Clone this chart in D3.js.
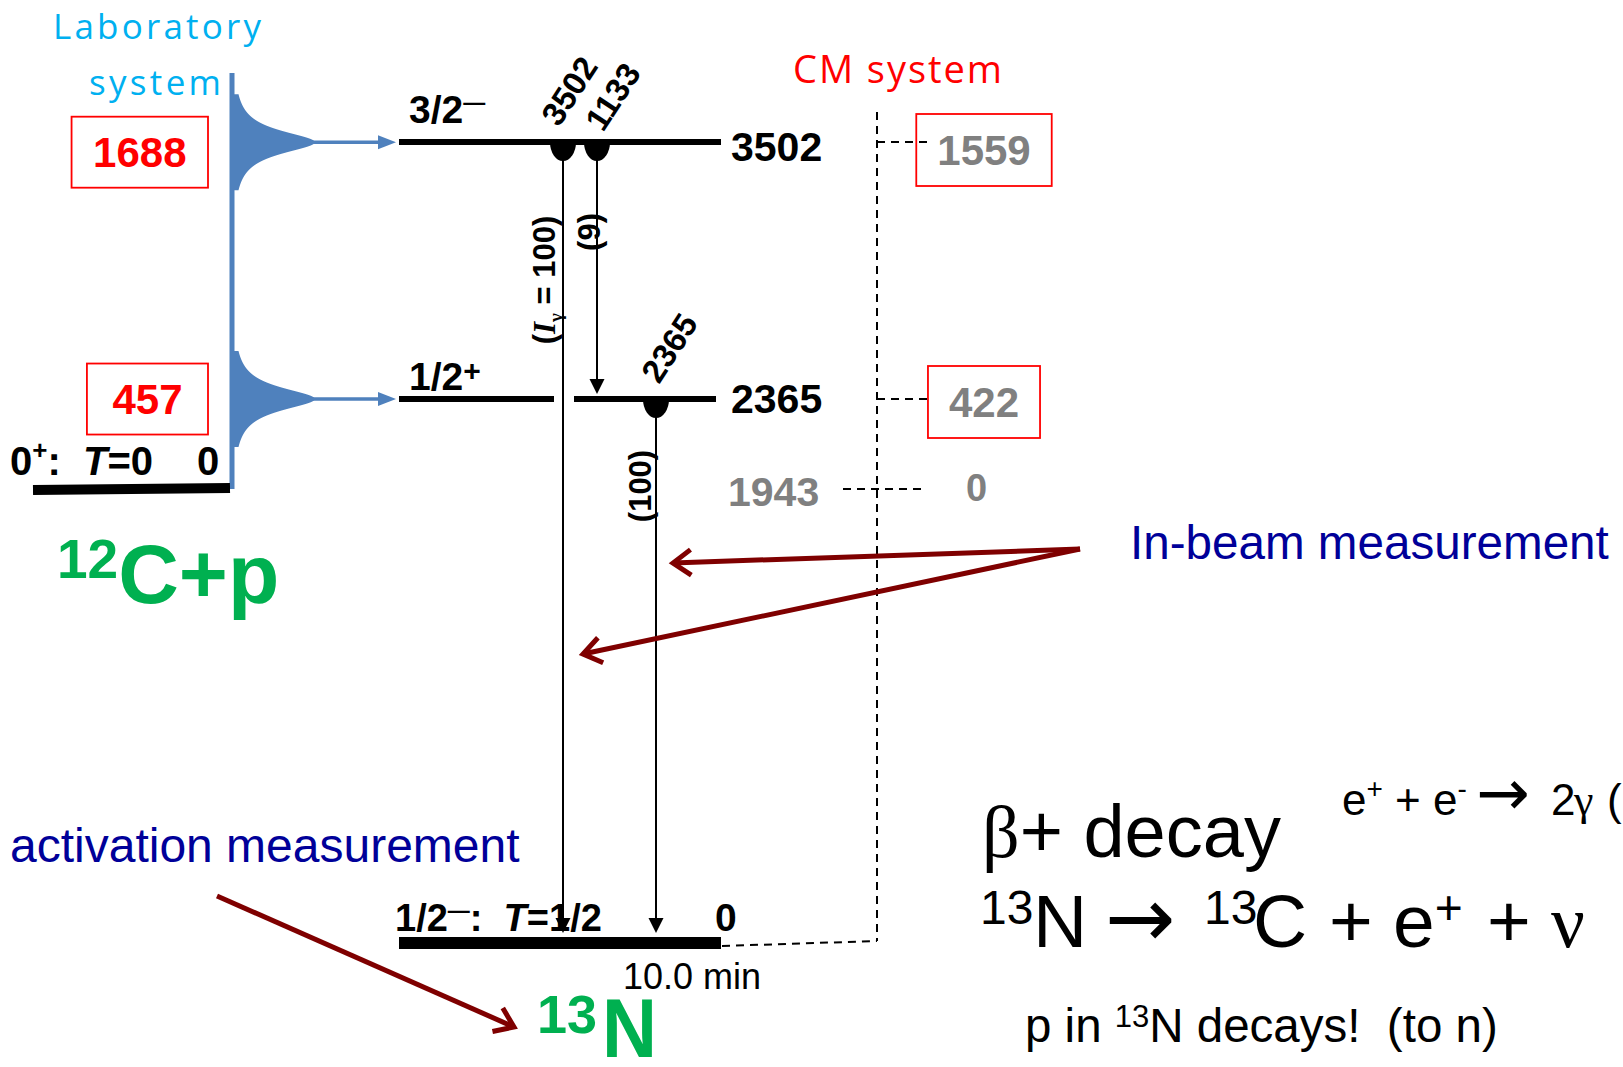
<!DOCTYPE html>
<html><head><meta charset="utf-8">
<script src="https://cdn.jsdelivr.net/npm/d3@7"></script>
<style>body{margin:0;background:#fff;overflow:hidden}</style>
</head><body>
<svg id="c" width="1623" height="1067"></svg>
<script>
// ---------------- data ----------------
const levelEnergies = [3502, 2365, 0];          // keV, levels of 13N
const levelSpins    = ["3/2", "1/2", "1/2"];
const levelParity   = ["\u2014", "+", "\u2014"];
const levelIsospin  = [null, null, "1/2"];
const thresholdEnergy = 1943;                   // 12C+p threshold in 13N (keV)
const cmEnergies    = [1559, 422, 0];           // CM system energies
const labEnergies   = [1688, 457];              // lab-system resonance energies
const gammaFrom     = [3502, 3502, 2365];
const gammaTo       = [0, 2365, 0];
const gammaLabels   = ["3502", "1133", "2365"];
const gammaIntensity= ["100", "9", "100"];
const halfLife      = "10.0 min";
const targetGround  = {spin: "0", parity: "+", isospin: "0", energy: 0};

// ---------------- layout ----------------
const SANS  = "'Liberation Sans', Arial, sans-serif";
const CAL   = "'Open Sans', Lato, sans-serif";
const SERIF = "'Liberation Serif', 'Times New Roman', serif";
const BLUE = "#4F81BD", LBLUE = "#00B0F0", RED = "#FF0000", GREEN = "#00B050",
      NAVY = "#000099", MAROON = "#7F0000", GRAY = "#808080";

const svg = d3.select("#c");
const y = d3.scaleLinear().domain([0, 1943, 2365, 3502]).range([943, 489, 399, 142]);
const lvX1 = 399, lvX2 = [721, 716, 721], lvW = [6, 6, 12];
const gammaX = [563, 597, 656];
const labLineX = 232, cmLineX = 877;

function rich(g, x, yy, attrs, parts) {
  const t = g.append("text").attr("x", x).attr("y", yy).style("white-space", "pre");
  Object.entries(attrs).forEach(([k, v]) => t.style(k, v));
  let shift = 0;
  parts.forEach(p => {
    const s = t.append("tspan").text(p.t);
    const target = p.shift || 0;
    if (target - shift !== 0) s.attr("dy", target - shift);
    shift = target;
    if (p.x != null) s.attr("x", p.x);
    if (p.size) s.style("font-size", p.size + "px");
    if (p.italic) s.style("font-style", "italic");
    if (p.family) s.style("font-family", p.family);
    if (p.weight) s.style("font-weight", p.weight);
  });
  return t;
}
const boldS = (size) => ({"font-family": SANS, "font-weight": "bold", "font-size": size + "px", "fill": "#000"});
const applyS = (sel, st) => Object.entries(st).forEach(([k, v]) => sel.style(k, v));

// ---------- Laboratory system ----------
svg.append("text").text("Laboratory").attr("x", 53).attr("y", 39)
  .attr("textLength", 208).style("font-family", CAL).style("font-size", "35px").style("fill", LBLUE);
svg.append("text").text("system").attr("x", 89).attr("y", 95)
  .attr("textLength", 132).style("font-family", CAL).style("font-size", "35px").style("fill", LBLUE);

svg.append("line").attr("x1", labLineX).attr("x2", labLineX).attr("y1", 73)
  .attr("y2", y(thresholdEnergy)).attr("stroke", BLUE).attr("stroke-width", 5);

const labToEx = e => thresholdEnergy + e * 12 / 13;
const peakArea = d3.area().x0(labLineX).x1(d => d.x).y(d => d.y).curve(d3.curveBasis);
labEnergies.forEach((e, i) => {
  const yc = y(labToEx(e));
  const pts = d3.range(-48, 48.5, 1).map(dy => ({y: yc + dy, x: labLineX + 83 / (1 + (dy / 14) ** 2)}));
  svg.append("path").attr("d", peakArea(pts)).attr("fill", BLUE);
  svg.append("line").attr("x1", 312).attr("x2", 380).attr("y1", yc).attr("y2", yc)
    .attr("stroke", BLUE).attr("stroke-width", 3.5);
  svg.append("path").attr("d", `M378,${yc - 7}L396,${yc}L378,${yc + 7}Z`).attr("fill", BLUE);
  const t = svg.append("text").text(e).style("font-family", SANS).style("font-weight", "bold")
    .style("font-size", "42px").style("fill", RED).attr("text-anchor", "middle");
  const w = t.node().getComputedTextLength();
  const bw = w + (i === 0 ? 43 : 51), cy = yc + (i === 0 ? 10 : 0);
  const cx = 208 - bw / 2;
  t.attr("x", cx).attr("y", cy + 15);
  svg.append("rect").attr("x", cx - bw / 2).attr("y", cy - 35.5).attr("width", bw).attr("height", 71)
    .attr("fill", "none").attr("stroke", RED).attr("stroke-width", 1.8);
});

// 12C + p ground state
const yT = y(thresholdEnergy);
svg.append("line").attr("x1", 33).attr("x2", 230).attr("y1", yT + 1).attr("y2", yT - 1)
  .attr("stroke", "#000").attr("stroke-width", 10);
rich(svg, 10, yT - 14, boldS(40), [
  {t: targetGround.spin}, {t: targetGround.parity, size: 26, shift: -16}, {t: ":  ", shift: 0},
  {t: "T", italic: true}, {t: "=" + targetGround.isospin}]);
svg.append("text").text(targetGround.energy).attr("x", 197).attr("y", yT - 14).call(s => applyS(s, boldS(40)));
rich(svg, 57, 603, {"font-family": SANS, "font-weight": "bold", "fill": GREEN, "font-size": "84px"}, [
  {t: "12", size: 55, shift: -25}, {t: "C+p", shift: 0}]);

// ---------- 13N levels ----------
levelEnergies.forEach((E, i) => {
  const yy = y(E);
  const gaps = [];
  gammaFrom.forEach((f, k) => { if (f > E && gammaTo[k] < E) gaps.push([gammaX[k] - 9, gammaX[k] + 11]); });
  let segs = [[lvX1, lvX2[i]]];
  gaps.forEach(([a, b]) => {
    segs = segs.flatMap(([s, e]) => (a > s && b < e) ? [[s, a], [b, e]] : [[s, e]]);
  });
  segs.forEach(([s, e]) => svg.append("line").attr("x1", s).attr("x2", e).attr("y1", yy).attr("y2", yy)
    .attr("stroke", "#000").attr("stroke-width", lvW[i]));
  if (levelIsospin[i] == null) {
    rich(svg, 409, yy + (i === 0 ? -19 : -9), boldS(39), [
      {t: levelSpins[i]},
      {t: levelParity[i], size: i === 0 ? 22 : 30, shift: i === 0 ? -13 : -9}]);
    svg.append("text").text(E).attr("x", 731).attr("y", yy + (i === 0 ? 19 : 14)).call(s => applyS(s, boldS(41)));
  } else {
    rich(svg, 395, yy - 12, boldS(38), [
      {t: levelSpins[i]}, {t: levelParity[i], size: 22, shift: -13}, {t: ":  ", shift: 0},
      {t: "T", italic: true}, {t: "=" + levelIsospin[i]}]);
    svg.append("text").text(E).attr("x", 715).attr("y", yy - 12).call(s => applyS(s, boldS(39)));
    svg.append("text").text(halfLife).attr("x", 623).attr("y", yy + 46)
      .style("font-family", SANS).style("font-size", "36px").style("fill", "#000");
  }
});

// 13N label
const t13 = svg.append("text").attr("x", 537).attr("y", 1057)
  .style("font-family", SANS).style("font-weight", "bold").style("fill", GREEN).style("white-space", "pre");
t13.append("tspan").text("13").style("font-size", "54px").attr("dy", -24);
t13.append("tspan").text("N").style("font-size", "84px").attr("dy", 24).attr("x", 602)
  .attr("textLength", 55).attr("lengthAdjust", "spacingAndGlyphs");

// ---------- gamma transitions ----------
const intensityPos = [[555, 280], [600, 232], [651, 486]];
const gammaLabelOff = [[-4, -14], [6, -9], [3, -14]];
gammaFrom.forEach((f, k) => {
  const gx = gammaX[k], y0 = y(f), y1 = y(gammaTo[k]) - (gammaTo[k] === 0 ? 10 : 5);
  svg.append("line").attr("x1", gx).attr("x2", gx).attr("y1", y0).attr("y2", y1 - 13)
    .attr("stroke", "#000").attr("stroke-width", 2);
  svg.append("path").attr("d", `M${gx - 7.5},${y1 - 15}L${gx},${y1}L${gx + 7.5},${y1 - 15}Z`).attr("fill", "#000");
  svg.append("path").attr("d", `M${gx - 13},${y0}A13 19 0 0 0 ${gx + 13},${y0}Z`).attr("fill", "#000");
  svg.append("text").text(gammaLabels[k])
    .attr("transform", `translate(${gx + gammaLabelOff[k][0]},${y0 + gammaLabelOff[k][1]}) rotate(-57)`)
    .call(s => applyS(s, boldS(33)));
  const [ix, iy] = intensityPos[k];
  const parts = k === 0
    ? [{t: "("}, {t: "I", italic: true, family: SERIF}, {t: "\u03B3", size: 19, shift: 7, family: SERIF},
       {t: " = " + gammaIntensity[k] + ")", shift: 0}]
    : [{t: "(" + gammaIntensity[k] + ")"}];
  const tt = rich(svg, 0, 0, Object.assign(boldS(31), {"text-anchor": "middle"}), parts);
  tt.attr("transform", `translate(${ix},${iy}) rotate(-90)`);
});

// ---------- CM system ----------
svg.append("text").text("CM system").attr("x", 793).attr("y", 83).attr("textLength", 209)
  .style("font-family", CAL).style("font-size", "38px").style("fill", RED);
const dl = (x1, y1, x2, y2) => svg.append("line").attr("x1", x1).attr("y1", y1).attr("x2", x2).attr("y2", y2)
  .attr("stroke", "#000").attr("stroke-width", 2).attr("stroke-dasharray", "8,6");
dl(cmLineX, 112, cmLineX, 941);
dl(722, 946, cmLineX, 941);
levelEnergies.slice(0, 2).forEach((E, i) => {
  const yy = y(E);
  dl(cmLineX, yy, 927, yy);
  const t = svg.append("text").text(cmEnergies[i]).attr("text-anchor", "middle")
    .style("font-family", SANS).style("font-weight", "bold").style("font-size", "42px").style("fill", GRAY);
  const w = t.node().getComputedTextLength();
  const cy = yy + (i === 0 ? 8 : 3);
  t.attr("x", 984).attr("y", cy + 15);
  svg.append("rect").attr("x", 984 - (w + 42) / 2).attr("y", cy - 36).attr("width", w + 42).attr("height", 72)
    .attr("fill", "none").attr("stroke", RED).attr("stroke-width", 1.8);
});
dl(843, yT, 922, yT);
svg.append("text").text(thresholdEnergy).attr("x", 728).attr("y", yT + 17)
  .style("font-family", SANS).style("font-weight", "bold").style("font-size", "41px").style("fill", GRAY);
svg.append("text").text(cmEnergies[2]).attr("x", 966).attr("y", yT + 12)
  .style("font-family", SANS).style("font-weight", "bold").style("font-size", "38px").style("fill", GRAY);

// ---------- annotations ----------
function maroonArrow(x1, y1, x2, y2) {
  svg.append("line").attr("x1", x1).attr("y1", y1).attr("x2", x2).attr("y2", y2)
    .attr("stroke", MAROON).attr("stroke-width", 5);
  const a = Math.atan2(y1 - y2, x1 - x2), L = 22, sp = 0.62;
  svg.append("path").attr("d",
    `M${x2 + L * Math.cos(a - sp)},${y2 + L * Math.sin(a - sp)}L${x2},${y2}L${x2 + L * Math.cos(a + sp)},${y2 + L * Math.sin(a + sp)}`)
    .attr("fill", "none").attr("stroke", MAROON).attr("stroke-width", 5).attr("stroke-linejoin", "miter");
}
svg.append("text").text("In-beam measurement").attr("x", 1130).attr("y", 559)
  .style("font-family", SANS).style("font-size", "47.6px").style("fill", NAVY);
maroonArrow(1080, 549, 673, 563);
maroonArrow(1080, 549, 583, 654);
svg.append("text").text("activation measurement").attr("x", 10).attr("y", 862)
  .style("font-family", SANS).style("font-size", "48px").style("fill", NAVY);
maroonArrow(217, 896, 514, 1027);

// ---------- beta decay text ----------
const A = {"font-family": SANS, "fill": "#000"};
rich(svg, 982, 857, Object.assign({}, A, {"font-size": "74px"}), [
  {t: "\u03B2", family: SERIF}, {t: "+ decay"}]);
rich(svg, 1342, 815, Object.assign({}, A, {"font-size": "44px"}), [
  {t: "e"}, {t: "+", size: 28, shift: -17}, {t: "+", x: 1395, shift: 0}, {t: "e", x: 1433},
  {t: "-", size: 28, shift: -17}, {t: "\u2192", x: 1476, size: 64, family: "'DejaVu Sans', sans-serif", shift: 0},
  {t: "2", x: 1551}, {t: "\u03B3", x: 1574, family: SERIF}, {t: "(", x: 1607}]);
rich(svg, 980, 947, Object.assign({}, A, {"font-size": "75px"}), [
  {t: "13", size: 48, shift: -23}, {t: "N", x: 1033, shift: 0},
  {t: "\u2192", x: 1105, size: 84, family: "'DejaVu Sans', sans-serif"},
  {t: "13", x: 1204, size: 48, shift: -23}, {t: "C", x: 1253, shift: 0},
  {t: "+", x: 1329}, {t: "e", x: 1393}, {t: "+", size: 48, shift: -23},
  {t: "+", x: 1487, shift: 0}, {t: "\u03BD", x: 1551, family: SERIF}]);
rich(svg, 1025, 1042, Object.assign({}, A, {"font-size": "47.5px"}), [
  {t: "p in "}, {t: "13", size: 31, shift: -15}, {t: "N decays!  (to n)", shift: 0}]);
</script>
</body></html>
